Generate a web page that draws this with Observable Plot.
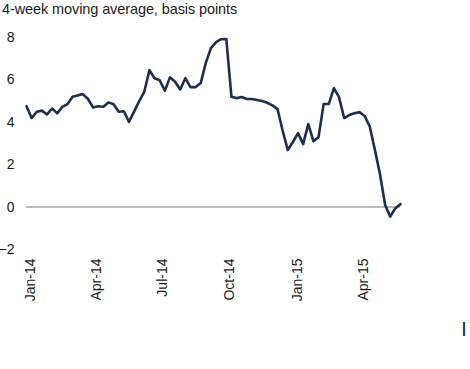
<!DOCTYPE html>
<html>
<head>
<meta charset="utf-8">
<script src="https://cdn.jsdelivr.net/npm/d3@7"></script>
<script src="https://cdn.jsdelivr.net/npm/@observablehq/plot@0.6"></script>
<style>
  html, body { margin: 0; padding: 0; background: #fff; }
  #wrap { position: relative; width: 470px; height: 369px; overflow: hidden; font-family: "Liberation Sans", Arial, sans-serif; }
  #title { position: absolute; left: 2px; top: 1px; font-size: 14.5px; line-height: 16px; color: #1a1a1a; letter-spacing: -0.1px; }
  #mark { position: absolute; left: 462px; top: 320px; font-size: 14px; color: #1a1a1a; font-weight: bold; }
  #chart { position: absolute; left: 0; top: 0; }
</style>
</head>
<body>
<div id="wrap">
  <div id="chart"></div>
  <div id="title">4-week moving average, basis points</div>
  <div id="mark">|</div>
</div>
<script>
const startDate = Date.UTC(2013, 11, 27);
const values = [
  4.76, 4.20, 4.50, 4.55, 4.37, 4.65, 4.42, 4.73, 4.86, 5.20,
  5.27, 5.33, 5.10, 4.70, 4.76, 4.73, 4.94, 4.85, 4.50, 4.52,
  4.02, 4.50, 5.00, 5.45, 6.46, 6.08, 5.98, 5.49, 6.12, 5.91,
  5.55, 6.08, 5.66, 5.66, 5.85, 6.80, 7.50, 7.78, 7.92, 7.93,
  5.20, 5.14, 5.19, 5.10, 5.10, 5.05, 5.00, 4.92, 4.80, 4.62,
  3.60, 2.69, 3.07, 3.49, 2.97, 3.92, 3.11, 3.30, 4.86, 4.86,
  5.61, 5.19, 4.20, 4.34, 4.43, 4.48, 4.30, 3.80, 2.70, 1.55,
  0.10, -0.45, -0.05, 0.14
];
const weeks = values.map((_, i) => new Date(startDate + i * 7 * 864e5));
const tickDates = [
  new Date(Date.UTC(2014, 0, 1)), new Date(Date.UTC(2014, 3, 1)),
  new Date(Date.UTC(2014, 6, 1)), new Date(Date.UTC(2014, 9, 1)),
  new Date(Date.UTC(2015, 0, 1)), new Date(Date.UTC(2015, 3, 1))
];
const yTicks = [-2, 0, 2, 4, 6, 8];

const data = weeks.map((d, i) => ({date: d, value: values[i]}));

const chart = Plot.plot({
  width: 470,
  height: 369,
  marginLeft: 26,
  marginRight: 70,
  marginTop: 37,
  marginBottom: 120,
  style: {fontFamily: "Liberation Sans, Arial, sans-serif", fontSize: "14px", color: "#1a1a1a", background: "transparent"},
  x: {type: "utc", domain: [weeks[0], weeks[weeks.length - 1]]},
  y: {domain: [-2, 8]},
  marks: [
    Plot.axisY({ticks: yTicks, tickSize: 0, tickPadding: 12, label: null, fontSize: 14}),
    Plot.axisX({ticks: tickDates, tickFormat: d3.utcFormat("%b-%y"), tickRotate: -90, tickSize: 0, tickPadding: 9, label: null, fontSize: 14}),
    Plot.ruleY([0], {stroke: "#a3a3a3", strokeWidth: 1.5}),
    Plot.line(data, {x: "date", y: "value", stroke: "#1c2f4f", strokeWidth: 2.6, strokeLinejoin: "round"})
  ]
});
document.getElementById("chart").appendChild(chart);
</script>
</body>
</html>
